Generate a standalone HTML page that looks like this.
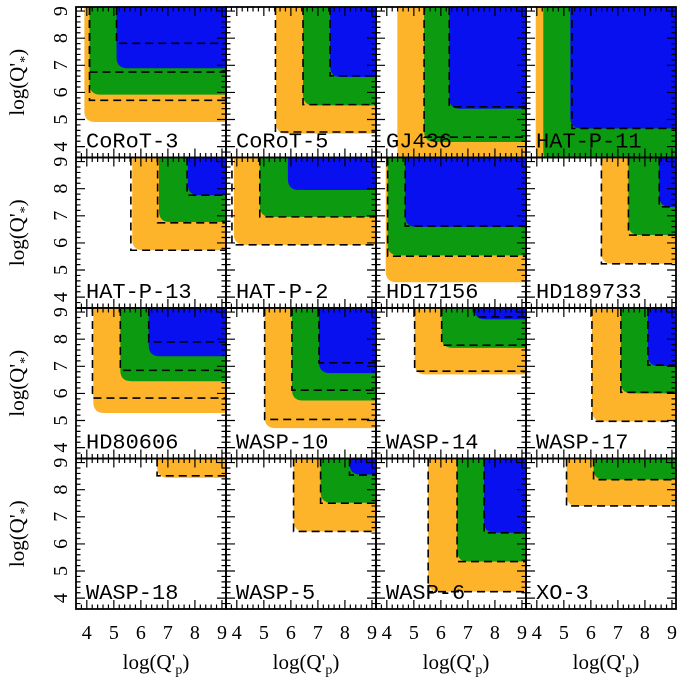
<!DOCTYPE html>
<html><head><meta charset="utf-8">
<style>
html,body{margin:0;padding:0;background:#fff;}
svg{display:block;}
text{font-family:"Liberation Serif",serif;fill:#000;}
.nm{font-family:"Liberation Mono",monospace;}
</style></head>
<body>
<svg id="chart" width="686" height="681" viewBox="0 0 686 681" xmlns="http://www.w3.org/2000/svg"></svg>
<script>
// ---- data (log Q'p, log Q'*) ----
const planets = ["CoRoT-3","CoRoT-5","GJ436","HAT-P-11","HAT-P-13","HAT-P-2","HD17156","HD189733","HD80606","WASP-10","WASP-14","WASP-17","WASP-18","WASP-5","WASP-6","XO-3"];
// lower-left corners of each confidence region [x, y]; null = absent
const orangeRegion = [[3.91,4.91],[5.45,4.48],[4.39,3.4],[3.96,3.4],[5.68,5.73],[3.89,5.93],[3.96,4.55],[6.39,5.23],[4.24,5.28],[5.03,4.72],[5.03,6.70],[6.04,4.97],[6.60,8.44],[6.10,6.46],[5.53,4.24],[5.10,7.40]];
const greenRegion  = [[4.10,5.92],[6.45,5.52],[5.38,4.17],[4.24,3.4],[6.67,6.77],[4.85,6.96],[4.03,5.54],[7.39,6.29],[5.24,6.45],[6.04,5.74],[6.03,7.68],[7.11,6.00],null,[7.10,7.52],[6.60,5.35],[6.10,8.37]];
const blueRegion   = [[5.10,6.89],[7.45,6.57],[6.31,5.40],[5.24,4.67],[7.74,7.76],[5.89,7.95],[4.68,6.59],[8.53,7.33],[6.29,7.37],[7.04,6.75],[7.24,8.73],[8.11,7.01],null,[8.17,8.56],[7.60,6.41],null];
// dashed limit corners
const dashedLimits = [
 [[4.10,5.71],[4.10,6.75],[5.10,7.81]],
 [[5.43,4.54],[6.45,5.55],[7.45,6.61]],
 [[5.38,4.35],[6.31,5.47]],
 [[5.30,4.67]],
 [[5.63,5.73],[6.62,6.74],[7.71,7.76]],
 [[3.82,5.93],[4.85,6.96]],
 [[4.03,5.51],[4.68,6.62]],
 [[6.39,5.23],[7.39,6.29],[8.53,7.33]],
 [[4.21,5.83],[5.24,6.85],[6.29,7.90]],
 [[5.03,5.04],[6.04,6.12],[7.04,7.13]],
 [[5.03,6.82],[6.03,7.78],[7.24,8.82]],
 [[6.04,4.97],[7.11,6.04],[8.11,7.04]],
 [[6.60,8.51]],
 [[6.10,6.46],[7.10,7.50],[8.17,8.54]],
 [[5.53,4.24],[6.60,5.35],[7.60,6.41]],
 [[5.10,7.40],[6.10,8.37]]
];
const tickLabels = ["4","5","6","7","8","9"];
const tickValues = [4,5,6,7,8,9];

const AMIN = 3.6, AMAX = 9.15;
const GX0 = 76, GY0 = 7, PW = 150, PH = 150.5;
const NS = "http://www.w3.org/2000/svg";
const svg = document.getElementById("chart");
function el(tag, attrs, parent) {
  const e = document.createElementNS(NS, tag);
  for (const k in attrs) e.setAttribute(k, attrs[k]);
  (parent || svg).appendChild(e);
  return e;
}
function px(col, v) { return GX0 + col*PW + (v-AMIN)/(AMAX-AMIN)*PW; }
function py(row, v) { return GY0 + (row+1)*PH - (v-AMIN)/(AMAX-AMIN)*PH; }
const colors = {orange:"#fdb42a", green:"#0b9a10", blue:"#0810f0"};
const defs = el("defs", {});

function region(g, i, col, row, c, name, color) {
  if (!c) return;
  const x = px(col, c[0]), y = py(row, c[1]);
  const top = GY0 + row*PH - 2, right = GX0 + (col+1)*PW + 2;
  const r = 11;
  const p = el("path", {d:`M${x},${top} L${x},${y-r} Q${x},${y} ${x+r},${y} L${right},${y} L${right},${top} Z`, fill:color}, g);
  
  
}

for (let i = 0; i < planets.length; i++) {
  const col = i % 4, row = Math.floor(i/4);
  const x0 = GX0 + col*PW, y0 = GY0 + row*PH;
  const cp = el("clipPath", {id:"cp"+i}, defs);
  el("rect", {x:x0, y:y0, width:PW, height:PH}, cp);
  const g = el("g", {"clip-path":"url(#cp"+i+")"});
  
  
  region(g, i, col, row, orangeRegion[i], 'orange', colors.orange);
  region(g, i, col, row, greenRegion[i], 'green', colors.green);
  region(g, i, col, row, blueRegion[i], 'blue', colors.blue);
  dashedLimits[i].forEach(function(c) {
    const x = px(col, c[0]), y = py(row, c[1]);
    const d = el("path", {d:`M${x},${y0} L${x},${y} L${x0+PW},${y}`, fill:"none", stroke:"#000", "stroke-width":1.6, "stroke-dasharray":"8,5"}, g);
    
    
  });
  let tp = "";
  for (let k = 0; k <= 30; k++) {
    const v = 3.6 + k*0.2;
    if (v > AMAX) break;
    const major = Math.abs(v - Math.round(v)) < 1e-6;
    const L = major ? 9 : 4.5;
    const xx = px(col, v), yy = py(row, v);
    tp += `M${xx},${y0+PH} v${-L} M${xx},${y0} v${L} M${x0},${yy} h${L} M${x0+PW},${yy} h${-L} `;
  }
  const t = el("path", {d:tp, stroke:"#000", "stroke-width":1.2, fill:"none"}, g);
  
  
  const fr = el("rect", {x:x0, y:y0, width:PW, height:PH, fill:"none", stroke:"#000", "stroke-width":1.8});
  
  
  const lb = el("text", {x:x0+10, y:y0+PH-10, "font-size":21, class:"nm", textLength:String(planets[i].length*13.2), lengthAdjust:"spacingAndGlyphs"});
  lb.textContent = planets[i];
  
  
}
for (let c = 0; c < 4; c++) {
  tickValues.forEach(function(v, k) {
    const t = el("text", {x:px(c, v), y:639, "font-size":20, "text-anchor":"middle"});
    t.textContent = tickLabels[k];
    
    
  });
  const xt = el("text", {x:GX0 + c*PW + 80, y:669, "font-size":21, "text-anchor":"middle"});
  xt.innerHTML = "log(Q'<tspan font-size='14' dy='5'>p</tspan><tspan dy='-5'>)</tspan>";
  
  
}
for (let r = 0; r < 4; r++) {
  tickValues.forEach(function(v, k) {
    const y = py(r, v);
    const t = el("text", {x:0, y:0, "font-size":20, "text-anchor":"middle", transform:`translate(67,${y}) rotate(-90)`});
    t.textContent = tickLabels[k];
    
    
  });
  const yc = GY0 + r*PH + PH/2;
  const yt = el("text", {x:0, y:0, "font-size":21, "text-anchor":"middle", transform:`translate(24,${yc}) rotate(-90)`});
  yt.innerHTML = "log(Q'<tspan font-size='14' dy='5'>*</tspan><tspan dy='-5'>)</tspan>";
  
  
}
</script>
</body></html>
